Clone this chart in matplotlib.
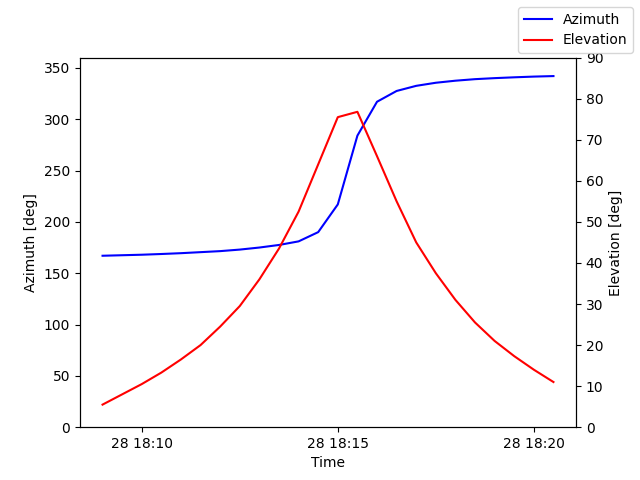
import datetime as dt
import matplotlib
matplotlib.use("Agg")
import matplotlib.pyplot as plt
import matplotlib.dates as mdates

start = dt.datetime(2024, 1, 28, 18, 9, 0)
times = [start + dt.timedelta(seconds=30 * i) for i in range(24)]

azimuth = [167, 167.5, 168, 168.7, 169.5, 170.5, 171.5, 173, 175, 177.5, 181, 190,
           217, 284, 317, 327.5, 332.5, 335.5, 337.5, 339, 340, 340.8, 341.5, 342]
elevation = [5.5, 8, 10.5, 13.3, 16.5, 20, 24.5, 29.5, 36, 43.5, 52.5, 64,
             75.5, 76.8, 66, 55, 45, 37.5, 31, 25.5, 21, 17.3, 14, 11]

fig, ax = plt.subplots(figsize=(6.4, 4.8), dpi=100)
ax.plot(times, azimuth, color="blue", label="Azimuth")
ax.set_ylim(0, 360)
ax.set_ylabel("Azimuth [deg]")
ax.set_xlabel("Time")
ax.xaxis.set_major_locator(mdates.MinuteLocator(byminute=[10, 15, 20]))
ax.xaxis.set_major_formatter(mdates.DateFormatter("%d %H:%M"))

ax2 = ax.twinx()
ax2.plot(times, elevation, color="red", label="Elevation")
ax2.set_ylim(0, 90)
ax2.set_ylabel("Elevation [deg]")

fig.legend(loc="upper right")
fig.savefig("out.png")
